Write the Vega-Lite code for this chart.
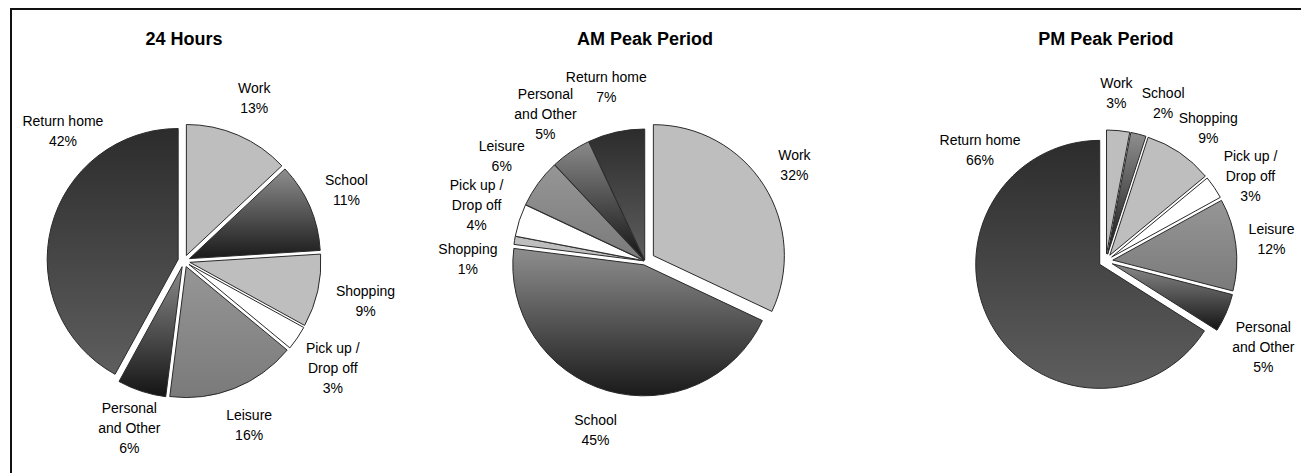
{
  "$schema": "https://vega.github.io/schema/vega-lite/v6.json",
  "width": 1310,
  "height": 504,
  "autosize": {"type": "none"},
  "padding": {"left": 11, "top": 9, "right": 0, "bottom": 0},
  "background": "white",
  "config": {
    "view": {"stroke": "#111111", "strokeWidth": 2},
    "font": "Liberation Sans"
  },
  "datasets": {
    "slices": [
      {"panel": "24 Hours", "cat": "Work", "label": "Work\n13%", "value": 13},
      {"panel": "24 Hours", "cat": "School", "label": "School\n11%", "value": 11},
      {"panel": "24 Hours", "cat": "Shopping", "label": "Shopping\n9%", "value": 9},
      {"panel": "24 Hours", "cat": "Pick up / Drop off", "label": "Pick up /\nDrop off\n3%", "value": 3},
      {"panel": "24 Hours", "cat": "Leisure", "label": "Leisure\n16%", "value": 16},
      {"panel": "24 Hours", "cat": "Personal and Other", "label": "Personal\nand Other\n6%", "value": 6},
      {"panel": "24 Hours", "cat": "Return home", "label": "Return home\n42%", "value": 42},
      {"panel": "AM Peak Period", "cat": "Work", "label": "Work\n32%", "value": 32},
      {"panel": "AM Peak Period", "cat": "School", "label": "School\n45%", "value": 45},
      {"panel": "AM Peak Period", "cat": "Shopping", "label": "Shopping\n1%", "value": 1},
      {"panel": "AM Peak Period", "cat": "Pick up / Drop off", "label": "Pick up /\nDrop off\n4%", "value": 4},
      {"panel": "AM Peak Period", "cat": "Leisure", "label": "Leisure\n6%", "value": 6},
      {"panel": "AM Peak Period", "cat": "Personal and Other", "label": "Personal\nand Other\n5%", "value": 5},
      {"panel": "AM Peak Period", "cat": "Return home", "label": "Return home\n7%", "value": 7},
      {"panel": "PM Peak Period", "cat": "Work", "label": "Work\n3%", "value": 3},
      {"panel": "PM Peak Period", "cat": "School", "label": "School\n2%", "value": 2},
      {"panel": "PM Peak Period", "cat": "Shopping", "label": "Shopping\n9%", "value": 9},
      {"panel": "PM Peak Period", "cat": "Pick up / Drop off", "label": "Pick up /\nDrop off\n3%", "value": 3},
      {"panel": "PM Peak Period", "cat": "Leisure", "label": "Leisure\n12%", "value": 12},
      {"panel": "PM Peak Period", "cat": "Personal and Other", "label": "Personal\nand Other\n5%", "value": 5},
      {"panel": "PM Peak Period", "cat": "Return home", "label": "Return home\n66%", "value": 66}
    ],
    "titles": [
      {"panel": "24 Hours"},
      {"panel": "AM Peak Period"},
      {"panel": "PM Peak Period"}
    ]
  },
  "layer": [
    {
      "data": {"name": "slices"},
      "transform": [
        {"stack": "value", "groupby": ["panel"], "as": ["v0", "v1"]}
      ],
      "mark": {
        "type": "arc",
        "outerRadius": {"expr": "datum.panel==='PM Peak Period' ? 124 : 131"},
        "stroke": "#2a2a2a",
        "strokeWidth": 1,
        "xOffset": {"expr": "(datum.panel==='AM Peak Period' ? (datum.cat==='Work' ? 10 : datum.cat==='School' ? 4 : 1) : datum.panel==='PM Peak Period' ? 7 : 6) * sin((datum.v0+datum.v1)*PI/100)"},
        "yOffset": {"expr": "-(datum.panel==='AM Peak Period' ? (datum.cat==='Work' ? 10 : datum.cat==='School' ? 4 : 1) : datum.panel==='PM Peak Period' ? 7 : 6) * cos((datum.v0+datum.v1)*PI/100)"}
      },
      "encoding": {
        "x": {"field": "panel", "type": "nominal", "axis": null,
              "scale": {"type": "point", "domain": ["24 Hours", "AM Peak Period", "PM Peak Period"], "padding": 0.421, "align": 0.4457}},
        "theta": {"field": "v0", "type": "quantitative", "scale": {"domain": [0, 100]}},
        "theta2": {"field": "v1"},
        "color": {
          "condition": [
            {"test": "datum.cat==='School'", "value": {"gradient": "linear", "x1": 0, "y1": 0, "x2": 0, "y2": 1, "stops": [{"offset": 0, "color": "#8e8e8e"}, {"offset": 1, "color": "#1a1a1a"}]}},
            {"test": "datum.cat==='Pick up / Drop off'", "value": "#ffffff"},
            {"test": "datum.cat==='Leisure'", "value": {"gradient": "linear", "x1": 0, "y1": 0, "x2": 0, "y2": 1, "stops": [{"offset": 0, "color": "#969696"}, {"offset": 1, "color": "#7a7a7a"}]}},
            {"test": "datum.cat==='Personal and Other'", "value": {"gradient": "linear", "x1": 0, "y1": 0, "x2": 0, "y2": 1, "stops": [{"offset": 0, "color": "#8a8a8a"}, {"offset": 1, "color": "#141414"}]}},
            {"test": "datum.cat==='Return home'", "value": {"gradient": "linear", "x1": 0, "y1": 0, "x2": 0, "y2": 1, "stops": [{"offset": 0, "color": "#2c2c2c"}, {"offset": 1, "color": "#5e5e5e"}]}}
          ],
          "value": "#bebebe"
        }
      }
    },
    {
      "data": {"name": "slices"},
      "transform": [
        {"stack": "value", "groupby": ["panel"], "as": ["v0", "v1"]}
      ],
      "mark": {
        "type": "text",
        "fontSize": 14,
        "lineHeight": 20,
        "lineBreak": "\n",
        "align": "center",
        "baseline": "middle",
        "color": "#000000",
        "radius": {"expr": "(datum.panel==='24 Hours' && datum.cat==='Pick up / Drop off') ? 184 : (datum.panel==='24 Hours' && datum.cat==='Shopping') ? 186 : (datum.panel==='PM Peak Period' && datum.cat==='Personal and Other') ? 180 : datum.panel==='PM Peak Period' ? 167 : 177"},
        "dy": {"expr": "(datum.cat==='Pick up / Drop off' || datum.cat==='Personal and Other') ? -20 : -10"},
        "theta": {"expr": "(datum.panel==='24 Hours' && datum.cat==='Return home') ? 5.53 : (datum.panel==='24 Hours' && datum.cat==='Pick up / Drop off') ? 2.2 : (datum.panel==='PM Peak Period' && datum.cat==='Return home') ? 5.43 : (datum.panel==='PM Peak Period' && datum.cat==='School') ? 0.35 : (datum.panel==='PM Peak Period' && datum.cat==='Work') ? 0.063 : (datum.panel==='PM Peak Period' && datum.cat==='Shopping') ? 0.66 : (datum.panel==='PM Peak Period' && datum.cat==='Pick up / Drop off') ? 1.047 : (datum.panel==='PM Peak Period' && datum.cat==='Personal and Other') ? 2.077 : (datum.panel==='AM Peak Period' && datum.cat==='Shopping') ? 4.72 : (datum.v0+datum.v1)*PI/100"}
      },
      "encoding": {
        "x": {"field": "panel", "type": "nominal", "axis": null},
        "text": {"field": "label", "type": "nominal"}
      }
    },
    {
      "data": {"name": "titles"},
      "mark": {
        "type": "text",
        "fontSize": 18,
        "fontWeight": "bold",
        "align": "center",
        "baseline": "middle",
        "color": "#000000",
        "radius": 221,
        "theta": 0
      },
      "encoding": {
        "x": {"field": "panel", "type": "nominal", "axis": null},
        "text": {"field": "panel", "type": "nominal"}
      }
    }
  ]
}
